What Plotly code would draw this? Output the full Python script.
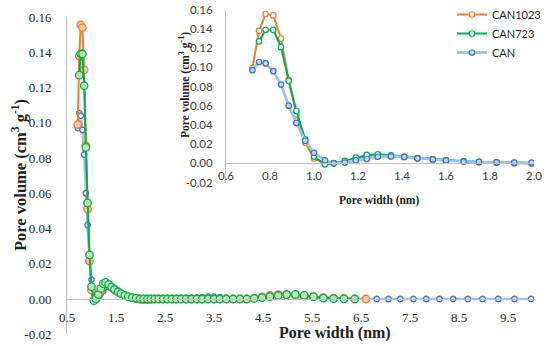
import plotly.graph_objects as go

# ---------------- data ----------------
pore_width = [0.72, 0.75, 0.78, 0.815, 0.85, 0.885, 0.92, 0.96, 1.00, 1.05,
              1.09, 1.14, 1.19, 1.24, 1.29, 1.35, 1.41, 1.47, 1.54, 1.60,
              1.68, 1.75, 1.83, 1.91, 1.99, 2.06, 2.14, 2.21, 2.29, 2.37,
              2.46, 2.55, 2.64, 2.73, 2.83, 2.93, 3.04, 3.15, 3.26, 3.38,
              3.50, 3.62, 3.75, 3.89, 4.03, 4.17, 4.32, 4.48, 4.64, 4.81,
              4.98, 5.16, 5.34, 5.53, 5.73, 5.94, 6.15, 6.37, 6.60, 6.82,
              7.06, 7.30, 7.57, 7.83, 8.10, 8.38, 8.68, 8.98, 9.30, 9.63, 9.97]

can1023 = [0.099, 0.138, 0.1555, 0.154, 0.130, 0.087, 0.051, 0.0215, 0.005, -0.0005,
           0.000, 0.0015, 0.0045, 0.0075, 0.0085, 0.0080, 0.0066, 0.0052, 0.0040, 0.0030,
           0.0020, 0.0012, 0.0006, 0.0001, -0.0002,
           -0.0003, -0.0003, -0.0002, -0.0001, 0.0, 0.0, 0.0, 0.0, 0.0, 0.0,
           0.0, 0.0, 0.0, 0.0, 0.0, 0.0, 0.0, 0.0, 0.0, 0.0, 0.0,
           0.0005, 0.0012, 0.0020, 0.0025, 0.0025, 0.0022, 0.0016, 0.0012, 0.0008,
           0.0005, 0.0003, 0.0001, 0.0]

can723 = [0.127, 0.139, 0.139, 0.121, 0.086, 0.0545, 0.025, 0.007, -0.001, 0.0002,
          0.0025, 0.006, 0.0087, 0.0094, 0.0083, 0.0068, 0.0054, 0.0041, 0.0031, 0.0021,
          0.0014, 0.0008, 0.0004, 0.0001,
          0.0, 0.0, 0.0, 0.0, 0.0, 0.0, 0.0, 0.0, 0.0, 0.0, 0.0,
          0.0, 0.0, 0.0, 0.0, 0.0, 0.0, 0.0, 0.0, 0.0, 0.0,
          0.0003, 0.0008, 0.0013, 0.0020, 0.0025, 0.0026, 0.0021, 0.0013, 0.0005,
          0.0002, 0.0001, 0.0]

can = [0.097, 0.1055, 0.104, 0.096, 0.082, 0.060, 0.042, 0.0235, 0.011, 0.003,
       0.000, 0.0008, 0.003, 0.0045, 0.0068, 0.0072, 0.0066, 0.0052, 0.0040, 0.0030,
       0.0018, 0.0014, 0.0010, 0.0006, 0.0006,
       0.0005, 0.0005, 0.0005, 0.0004, 0.0004, 0.0004, 0.0004, 0.0004, 0.0004, 0.0004,
       0.0005, 0.0006, 0.0008, 0.0011, 0.0013, 0.0013, 0.0011, 0.0007, 0.0004, 0.0003, 0.0003,
       0.0004, 0.0007, 0.0011, 0.0015, 0.0018, 0.0018, 0.0015, 0.0010, 0.0006,
       0.0003, 0.0002, 0.0001, 0.0,
       0.0, 0.0, 0.0, 0.0, 0.0, 0.0, 0.0, 0.0, 0.0, 0.0, 0.0, 0.0]

x_1023 = pore_width[:59]
x_723 = pore_width[1:58]
x_can = pore_width

inset_n = 25  # points up to 2.0 nm shown in the inset

main_xticks = [0.5, 1.5, 2.5, 3.5, 4.5, 5.5, 6.5, 7.5, 8.5, 9.5]
main_xticklabels = ["0.5", "1.5", "2.5", "3.5", "4.5", "5.5", "6.5", "7.5", "8.5", "9.5"]
yticks = [-0.02, 0.0, 0.02, 0.04, 0.06, 0.08, 0.10, 0.12, 0.14, 0.16]
yticklabels = ["-0.02", "0.00", "0.02", "0.04", "0.06", "0.08", "0.10", "0.12", "0.14", "0.16"]
inset_xticks = [0.6, 0.8, 1.0, 1.2, 1.4, 1.6, 1.8, 2.0]
inset_xticklabels = ["0.6", "0.8", "1.0", "1.2", "1.4", "1.6", "1.8", "2.0"]

# ---------------- styles ----------------
ORANGE = "#ED7D31"
GREEN = "#00B050"
LBLUE = "#9DC3E6"
DBLUE = "#4472C4"
AXIS = "#BFBFBF"
CLEAR = "rgba(0,0,0,0)"
SERIF = "Liberation Serif"
SANS = "Lato"

fig = go.Figure()

# main chart (blue bottom, orange, green on top)
fig.add_trace(go.Scatter(x=x_can, y=can, mode="lines+markers", showlegend=False,
                         line=dict(color=LBLUE, width=2.5),
                         marker=dict(size=5.5, color="#DDEBF7", line=dict(color=DBLUE, width=1.3)),
                         xaxis="x", yaxis="y"))
fig.add_trace(go.Scatter(x=x_1023, y=can1023, mode="lines+markers", showlegend=False,
                         line=dict(color=ORANGE, width=2),
                         marker=dict(size=7.5, color="#F8CBAD", line=dict(color=ORANGE, width=1.3)),
                         xaxis="x", yaxis="y"))
fig.add_trace(go.Scatter(x=x_723, y=can723, mode="lines+markers", showlegend=False,
                         line=dict(color=GREEN, width=2),
                         marker=dict(size=7.5, color="#C5E0B4", line=dict(color=GREEN, width=1.3)),
                         xaxis="x", yaxis="y"))

# inset (orange, green, blue on top)
fig.add_trace(go.Scatter(x=x_1023[:inset_n], y=can1023[:inset_n], mode="lines+markers", name="CAN1023",
                         line=dict(color=ORANGE, width=2),
                         marker=dict(size=5.5, color="white", line=dict(color=ORANGE, width=1.2)),
                         xaxis="x2", yaxis="y2"))
fig.add_trace(go.Scatter(x=x_723[:inset_n - 1], y=can723[:inset_n - 1], mode="lines+markers", name="CAN723",
                         line=dict(color=GREEN, width=2),
                         marker=dict(size=5.5, color="white", line=dict(color=GREEN, width=1.2)),
                         xaxis="x2", yaxis="y2"))
fig.add_trace(go.Scatter(x=x_can[:inset_n], y=can[:inset_n], mode="lines+markers", name="CAN",
                         line=dict(color=LBLUE, width=2.8),
                         marker=dict(size=5.5, color="#BDD7EE", line=dict(color=DBLUE, width=1.2)),
                         xaxis="x2", yaxis="y2"))

W, H = 550, 346

def px_x(p):
    return p / W

def px_y(p):
    return 1 - p / H

fig.update_layout(
    width=W, height=H,
    margin=dict(l=0, r=0, t=0, b=0, autoexpand=False),
    paper_bgcolor="white", plot_bgcolor="rgba(0,0,0,0)",
    xaxis=dict(domain=[px_x(67), px_x(536)], range=[0.5, 10.07], anchor="free",
               position=px_y(299), showline=True, linecolor=AXIS, linewidth=1,
               showgrid=False, zeroline=False, ticks="outside", ticklen=6, tickcolor=CLEAR,
               tickvals=main_xticks, ticktext=main_xticklabels,
               tickfont=dict(family=SERIF, size=13, color="#262626")),
    yaxis=dict(domain=[1 - 334.25 / H, 1 - 17 / H], range=[-0.02, 0.16], anchor="x",
               showline=True, linecolor=AXIS, linewidth=1, showgrid=False,
               zeroline=False, ticks="outside", ticklen=12, tickcolor=CLEAR,
               tickvals=yticks, ticktext=yticklabels,
               tickfont=dict(family=SERIF, size=13, color="#262626")),
    xaxis2=dict(domain=[px_x(226), px_x(534)], range=[0.6, 2.0], anchor="free",
                position=px_y(163.3), showline=True, linecolor=AXIS, linewidth=1,
                showgrid=False, zeroline=False, ticks="outside", ticklen=2, tickcolor=CLEAR,
                tickvals=inset_xticks, ticktext=inset_xticklabels,
                tickfont=dict(family=SANS, size=11.5, color="#404040")),
    yaxis2=dict(domain=[1 - 182.5 / H, 1 - 9.7 / H], range=[-0.02, 0.16], anchor="x2",
                showline=True, linecolor=AXIS, linewidth=1, showgrid=False,
                zeroline=False, ticks="outside", ticklen=10, tickcolor=CLEAR,
                tickvals=yticks, ticktext=yticklabels,
                tickfont=dict(family=SANS, size=11.5, color="#404040")),
    legend=dict(x=px_x(452), y=1.0, xref="container", yref="container",
                xanchor="left", yanchor="top",
                bgcolor="rgba(255,255,255,0)", font=dict(family=SANS, size=11, color="#262626"),
                tracegroupgap=0, itemwidth=30),
    annotations=[
        dict(text="<b>Pore volume (cm<sup>3</sup> g<sup>-1</sup>)</b>", x=px_x(19), y=px_y(175),
             xref="paper", yref="paper", xanchor="center", yanchor="middle",
             textangle=-90, showarrow=False,
             font=dict(family=SERIF, size=16.5, color="#222222")),
        dict(text="<b>Pore width (nm)</b>", x=px_x(335), y=px_y(333),
             xref="paper", yref="paper", xanchor="center", yanchor="middle", showarrow=False,
             font=dict(family=SERIF, size=16, color="#222222")),
        dict(text="<b>Pore volume (cm<sup>3</sup> g<sup>-1</sup>)</b>", x=px_x(184), y=px_y(85),
             xref="paper", yref="paper", xanchor="center", yanchor="middle",
             textangle=-90, showarrow=False,
             font=dict(family=SERIF, size=11.5, color="#222222")),
        dict(text="<b>Pore width (nm)</b>", x=px_x(379), y=px_y(200),
             xref="paper", yref="paper", xanchor="center", yanchor="middle", showarrow=False,
             font=dict(family=SERIF, size=11.5, color="#222222")),
    ],
)

fig.write_html("out.html", config={"displayModeBar": False},
               post_script="document.body.style.margin='0';")
